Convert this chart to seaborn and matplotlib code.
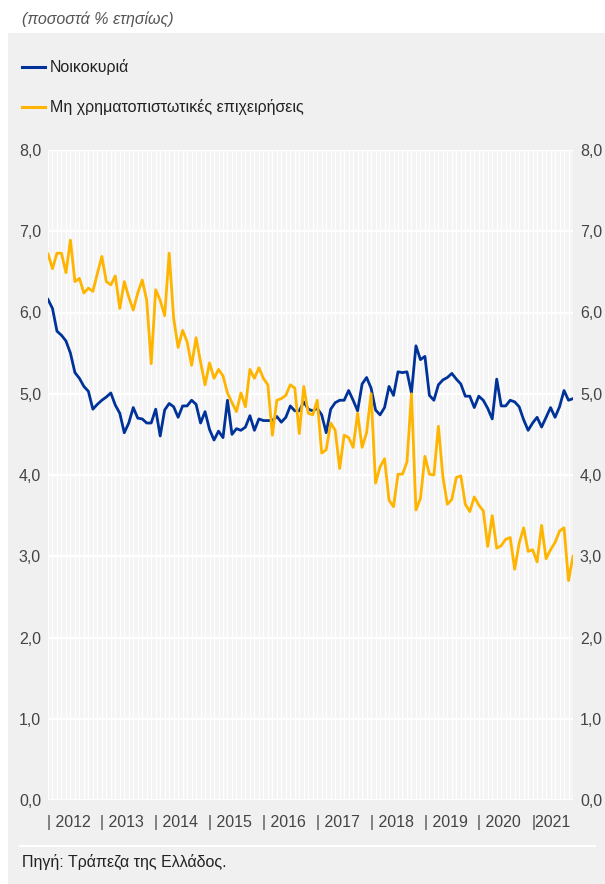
import pandas as pd
import numpy as np
import matplotlib
matplotlib.use('Agg')
import matplotlib.pyplot as plt
import seaborn as sns
from matplotlib.patches import Rectangle
from matplotlib.lines import Line2D

# monthly series, Jan 2012 - Oct 2021 (% per year)
households = [6.16, 6.05, 5.77, 5.72, 5.65, 5.50, 5.26, 5.19, 5.09, 5.03, 4.81, 4.87,
              4.92, 4.96, 5.01, 4.86, 4.76, 4.52, 4.64, 4.83, 4.70, 4.69, 4.64, 4.64,
              4.81, 4.48, 4.80, 4.88, 4.84, 4.71, 4.85, 4.85, 4.92, 4.87, 4.64, 4.78,
              4.56, 4.43, 4.54, 4.46, 4.92, 4.50, 4.57, 4.55, 4.59, 4.73, 4.55, 4.69,
              4.67, 4.67, 4.67, 4.72, 4.65, 4.71, 4.85, 4.79, 4.79, 4.90, 4.81, 4.79,
              4.82, 4.74, 4.52, 4.81, 4.89, 4.92, 4.92, 5.04, 4.92, 4.79, 5.12, 5.20,
              5.07, 4.80, 4.74, 4.83, 5.09, 4.98, 5.27, 5.26, 5.27, 5.01, 5.59, 5.42,
              5.46, 4.98, 4.92, 5.11, 5.17, 5.20, 5.25, 5.18, 5.12, 4.97, 4.97, 4.83,
              4.97, 4.92, 4.82, 4.69, 5.18, 4.85, 4.85, 4.92, 4.90, 4.84, 4.68, 4.55,
              4.64, 4.71, 4.59, 4.71, 4.83, 4.71, 4.84, 5.04, 4.92, 4.94]
corporates = [6.72, 6.54, 6.73, 6.73, 6.49, 6.89, 6.38, 6.42, 6.24, 6.30, 6.26, 6.48,
              6.69, 6.38, 6.34, 6.45, 6.05, 6.38, 6.19, 6.03, 6.24, 6.40, 6.15, 5.37,
              6.28, 6.15, 5.96, 6.73, 5.93, 5.57, 5.78, 5.64, 5.35, 5.69, 5.39, 5.11,
              5.38, 5.19, 5.30, 5.22, 5.01, 4.89, 4.78, 5.01, 4.84, 5.30, 5.19, 5.32,
              5.19, 5.11, 4.49, 4.92, 4.94, 4.98, 5.11, 5.07, 4.51, 5.09, 4.76, 4.74,
              4.92, 4.27, 4.31, 4.64, 4.55, 4.08, 4.49, 4.46, 4.34, 4.76, 4.34, 4.52,
              5.00, 3.90, 4.10, 4.20, 3.69, 3.61, 4.01, 4.01, 4.16, 5.00, 3.57, 3.71,
              4.23, 4.01, 4.00, 4.60, 3.98, 3.64, 3.70, 3.97, 3.99, 3.64, 3.55, 3.73,
              3.63, 3.56, 3.12, 3.50, 3.10, 3.13, 3.21, 3.23, 2.84, 3.16, 3.35, 3.06,
              3.08, 2.93, 3.38, 2.97, 3.08, 3.17, 3.31, 3.35, 2.70, 3.00]
series_names = ['Νοικοκυριά', 'Μη χρηματοπιστωτικές επιχειρήσεις']
years = ['2012', '2013', '2014', '2015', '2016', '2017', '2018', '2019', '2020', '2021']
colors = ['#003399', '#ffb400']

n = len(households)
df = pd.DataFrame({
    'month': list(range(n)) * 2,
    'rate': households + corporates,
    'series': [series_names[0]] * n + [series_names[1]] * n,
})

plt.rcParams['font.family'] = ['Liberation Sans', 'DejaVu Sans']
fig = plt.figure(figsize=(6.05, 8.84), dpi=100)
fig.patch.set_facecolor('white')
fig.add_artist(Rectangle((8 / 605, 0), 1, 851 / 884, transform=fig.transFigure,
                         facecolor='#f0f0f0', edgecolor='none', zorder=0))

ax = fig.add_axes([48 / 605, 84 / 884, 525 / 605, 650 / 884])
ax.set_facecolor('#f4f4f4')
sns.lineplot(data=df, x='month', y='rate', hue='series', palette=colors,
             linewidth=2.0, ax=ax, legend=False, zorder=3)

ax.set_xlim(0, n - 1)
ax.set_ylim(0, 8)
ax.set_yticks(np.arange(0, 8.1, 1))
ax.set_yticklabels([f'{v:.1f}'.replace('.', ',') for v in np.arange(0, 8.1, 1)])
ax.tick_params(axis='y', labelright=True, length=0, labelsize=11.5,
               labelcolor='#444444', pad=5)
ax.set_xticks(range(n), minor=True)
ax.set_xticks([])
ax.tick_params(axis='x', which='both', length=0)
ax.grid(which='minor', axis='x', color='white', linewidth=0.9)
ax.grid(which='major', axis='y', color='white', linewidth=1.6)
ax.set_axisbelow(True)
for s in ax.spines.values():
    s.set_visible(False)
ax.set_xlabel('')
ax.set_ylabel('')

# year labels with separators
trans = ax.get_xaxis_transform()
for k, yr in enumerate(years):
    lab = '|' + yr if k == len(years) - 1 else '| ' + yr
    ax.text(12 * k - 0.3, -0.034, lab, transform=trans, ha='left', va='center',
            fontsize=11.5, color='#444444')

# title and legend
fig.text(22 / 605, 1 - 19 / 884, '(ποσοστά % ετησίως)', fontsize=11.5,
         style='italic', color='#555555', va='center')
for i, name in enumerate(series_names):
    yy = 1 - (67 + 40 * i) / 884
    fig.add_artist(Line2D([22 / 605, 45 / 605], [yy, yy], color=colors[i],
                          linewidth=2.2, transform=fig.transFigure))
    fig.text(50 / 605, yy, name, fontsize=11.5, color='#222222', va='center')

# source
fig.add_artist(Line2D([20 / 605, 595 / 605], [1 - 846 / 884, 1 - 846 / 884],
                      color='white', linewidth=1.5, transform=fig.transFigure))
fig.text(22 / 605, 1 - 862 / 884, 'Πηγή: Τράπεζα της Ελλάδος.', fontsize=11.5,
         color='#222222', va='center')

fig.savefig('out.png', dpi=100)
